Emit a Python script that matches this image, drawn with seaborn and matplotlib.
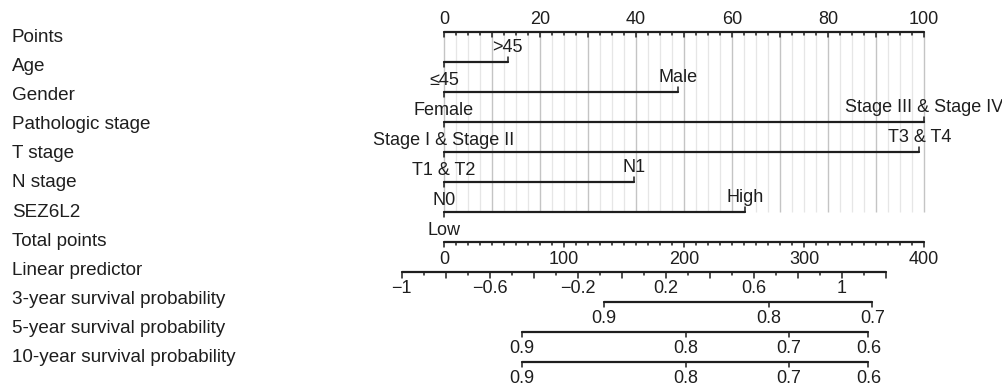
import matplotlib
matplotlib.use("Agg")
import matplotlib.pyplot as plt
import numpy as np
import pandas as pd
import seaborn as sns

# row names on the left
row_labels = ["Points", "Age", "Gender", "Pathologic stage", "T stage", "N stage",
              "SEZ6L2", "Total points", "Linear predictor",
              "3-year survival probability", "5-year survival probability",
              "10-year survival probability"]

# categorical predictors: reference level sits at 0 points
var_low_labels = ["≤45", "Female", "Stage I & Stage II", "T1 & T2", "N0", "Low"]
var_high_labels = [">45", "Male", "Stage III & Stage IV", "T3 & T4", "N1", "High"]
var_high_points = [13.3, 48.8, 100.0, 99.0, 39.5, 62.8]

total_points_max = 400

# linear predictor scale, expressed against total points
lp_min, lp_max = -1.0, 1.2
lp_labels = [-1, -0.6, -0.2, 0.2, 0.6, 1]
lp_tp_at_zero = 148.1
lp_tp_per_unit = 183.3

# survival probability -> total points
surv_probs_3y = [0.9, 0.8, 0.7]
surv_tp_3y = [133.3, 271.0, 357.0]
surv_probs_5y = [0.9, 0.8, 0.7, 0.6]
surv_tp_5y = [64.7, 201.7, 287.5, 353.6]
surv_probs_10y = [0.9, 0.8, 0.7, 0.6]
surv_tp_10y = [64.7, 201.7, 287.5, 353.6]

ink = "#1e1e1e"
PX = 1 / 30.0  # one pixel in row units


def tp_to_x(tp):
    return np.asarray(tp, dtype=float) / 4.0


def lp_to_x(lp):
    return tp_to_x(lp_tp_at_zero + lp_tp_per_unit * np.asarray(lp, dtype=float))


def fmt(v):
    return f"{v:g}".replace("-", "\u2212")


sns.set_theme(style="white")
plt.rcParams["font.family"] = ["Liberation Sans", "DejaVu Sans"]
fs = 13        # numbers and level labels
fs_lab = 13.6  # row names

fig = plt.figure(figsize=(10.03, 3.85), dpi=100)
ax = fig.add_axes([0, 0, 1, 1])

# line segments for every row
segs = [(0, 0.0), (0, 100.0)]
for i, hp in enumerate(var_high_points):
    segs += [(i + 1, 0.0), (i + 1, hp)]
segs += [(7, 0.0), (7, float(tp_to_x(total_points_max)))]
segs += [(8, float(lp_to_x(lp_min))), (8, float(lp_to_x(lp_max)))]
for r, tps in zip([9, 10, 11], [surv_tp_3y, surv_tp_5y, surv_tp_10y]):
    segs += [(r, float(tp_to_x(min(tps)))), (r, float(tp_to_x(max(tps))))]
seg = pd.DataFrame(segs, columns=["row", "x"])
seg["y"] = seg["row"].astype(float)

# grid behind the predictor rows
grid_x = np.arange(0, 100.01, 2.5)
minor = [g for g in grid_x if g % 10 != 0]
major = [g for g in grid_x if g % 10 == 0]
ax.vlines(minor, 0, 6, color="#e6e6e6", lw=0.9, zorder=0)
ax.vlines(major, 0, 6, color="#c4c4c4", lw=1.0, zorder=0)

sns.lineplot(data=seg, x="x", y="y", units="row", estimator=None, sort=False,
             color=ink, lw=1.6, legend=False, ax=ax)

# Points axis
for p in grid_x:
    ln = 5 if p % 10 == 0 else 3
    ax.plot([p, p], [0, ln * PX], color=ink, lw=1.1)
for p in range(0, 101, 20):
    ax.text(p, -8 * PX, str(p), ha="center", va="baseline", fontsize=fs, color=ink)

# categorical rows
for i, (lo, hi, hp) in enumerate(zip(var_low_labels, var_high_labels, var_high_points)):
    r = i + 1
    ax.plot([0, 0], [r, r + 5 * PX], color=ink, lw=1.1)
    ax.plot([hp, hp], [r, r - 5 * PX], color=ink, lw=1.1)
    ax.text(0, r + 23.5 * PX, lo, ha="center", va="baseline", fontsize=fs, color=ink)
    ax.text(hp, r - 10 * PX, hi, ha="center", va="baseline", fontsize=fs, color=ink)

# Total points
for tp in range(0, total_points_max + 1, 10):
    ln = 5 if tp % 100 == 0 else 3
    x = float(tp_to_x(tp))
    ax.plot([x, x], [7, 7 + ln * PX], color=ink, lw=1.1)
for tp in range(0, total_points_max + 1, 100):
    ax.text(float(tp_to_x(tp)), 7 + 22 * PX, str(tp), ha="center", va="baseline",
            fontsize=fs, color=ink)

# Linear predictor
lp_ticks = np.round(np.arange(lp_min, lp_max + 0.001, 0.1), 1)
for lp in lp_ticks:
    ln = 6 if int(round(lp * 10)) % 2 == 0 else 3
    x = float(lp_to_x(lp))
    ax.plot([x, x], [8, 8 + ln * PX], color=ink, lw=1.1)
for lp in lp_labels:
    ax.text(float(lp_to_x(lp)), 8 + 21 * PX, fmt(lp), ha="center", va="baseline",
            fontsize=fs, color=ink)

# survival probabilities
for r, probs, tps in zip([9, 10, 11], [surv_probs_3y, surv_probs_5y, surv_probs_10y],
                         [surv_tp_3y, surv_tp_5y, surv_tp_10y]):
    for pr, tp in zip(probs, tps):
        x = float(tp_to_x(tp))
        ax.plot([x, x], [r, r + 5 * PX], color=ink, lw=1.1)
        ax.text(x, r + 21 * PX, fmt(pr), ha="center", va="baseline", fontsize=fs, color=ink)

# row names
for i, lab in enumerate(row_labels):
    ax.text(-90, (42 + 29.1 * i - 32) * PX, lab, ha="left", va="baseline",
            fontsize=fs_lab, color=ink)

ax.set_xlim(-444 / 4.8, (1003 - 444) / 4.8)
ax.set_ylim((385 - 32) * PX, -32 * PX)
ax.axis("off")

fig.savefig("out.png", dpi=100)
